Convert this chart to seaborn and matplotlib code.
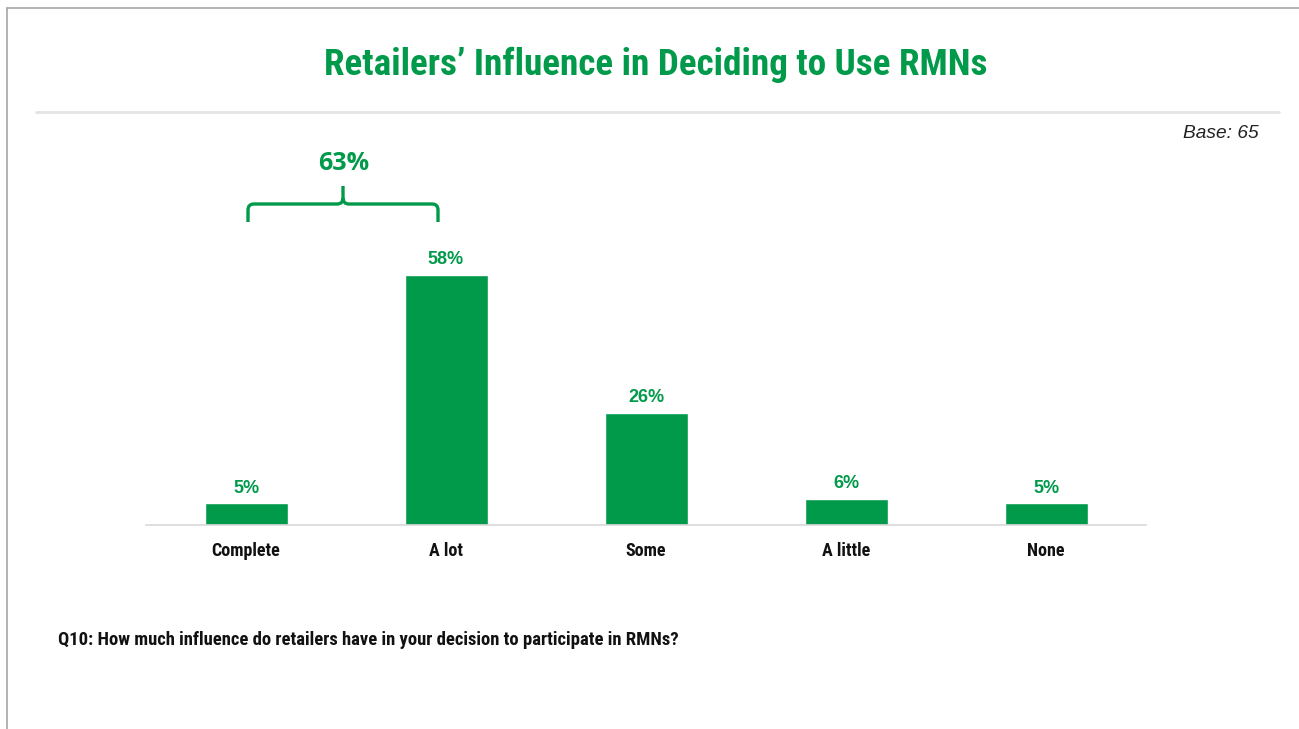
import matplotlib
matplotlib.use("Agg")
import matplotlib.pyplot as plt
import seaborn as sns
import pandas as pd
from matplotlib.lines import Line2D
from matplotlib.path import Path
from matplotlib.patches import PathPatch
from matplotlib.transforms import Affine2D

categories = ["Complete", "A lot", "Some", "A little", "None"]
shares = [5, 58, 26, 6, 5]
value_labels = ["5%", "58%", "26%", "6%", "5%"]
top_two_label = "63%"
title_text = "Retailers\u2019 Influence in Deciding to Use RMNs"
base_text = "Base: 65"
question_text = "Q10: How much influence do retailers have in your decision to participate in RMNs?"

GREEN = "#009A4A"
NARROW = ["Roboto Condensed", "PT Sans Narrow", "Barlow Semi Condensed", "DejaVu Sans"]

sns.set_theme(style="white")
plt.rcParams["font.family"] = ["Liberation Sans", "DejaVu Sans"]

df = pd.DataFrame({"category": categories, "share": shares})

fig = plt.figure(figsize=(12.99, 7.29), dpi=100)
W, H = 1299, 729

def fx(px):
    return px / W

def fy(py):
    return 1 - py / H

# pixel coordinates measured from the top-left corner of the slide
slide_px = Affine2D().scale(1 / W, -1 / H).translate(0, 1) + fig.transFigure

# slide frame (top and left edges)
fig.add_artist(Line2D([fx(7), fx(1299)], [fy(8), fy(8)], color="#a6a6a6", lw=1.2))
fig.add_artist(Line2D([fx(7), fx(7)], [fy(8), fy(729)], color="#a6a6a6", lw=1.2))
# separator under the title
fig.add_artist(Line2D([fx(36), fx(1279)], [fy(112), fy(112)], color="#e3e3e3", lw=2))

fig.text(fx(656), fy(65), title_text, ha="center", va="center", color=GREEN,
         fontsize=26.7, fontweight="bold", family=NARROW)
fig.text(fx(1259), fy(134), base_text, ha="right", va="center", color="#222222",
         fontsize=13.8, style="italic")
fig.text(fx(58), fy(640), question_text, ha="left", va="center", color="#111111",
         fontsize=13.4, fontweight="bold", family=NARROW)

ax_top, ax_bottom = 150, 525
ax = fig.add_axes([fx(146), fy(ax_bottom), fx(1146) - fx(146), (ax_bottom - ax_top) / H])
sns.barplot(data=df, x="category", y="share", color=GREEN, saturation=1,
            width=0.415, ax=ax)
ax.set_xlim(-0.5, len(categories) - 0.5)
ax.set_ylim(0, 87)
ax.set_xlabel("")
ax.set_ylabel("")
ax.set_yticks([])
for side in ["top", "right", "left"]:
    ax.spines[side].set_visible(False)
ax.spines["bottom"].set_color("#d9d9d9")
ax.spines["bottom"].set_linewidth(1.2)
ax.tick_params(axis="x", length=0, pad=12)
for lbl in ax.get_xticklabels():
    lbl.set_fontfamily(NARROW)
    lbl.set_fontweight("bold")
    lbl.set_fontsize(13)
    lbl.set_color("#111111")

for bar, txt in zip(ax.patches, value_labels):
    ax.annotate(txt, (bar.get_x() + bar.get_width() / 2, bar.get_height()),
                xytext=(0, 5), textcoords="offset points", ha="center", va="bottom",
                color=GREEN, fontsize=13, fontweight="bold")

# curly brace grouping the two top categories
L, R, M = 248, 438, 343
Y, END, TIP, r = 204, 222, 186, 6
verts = [(L, END), (L, Y + r), (L, Y), (L + r, Y), (M - r, Y), (M, Y), (M, Y - r), (M, TIP),
         (M, Y - r), (M, Y), (M + r, Y), (R - r, Y), (R, Y), (R, Y + r), (R, END)]
codes = [Path.MOVETO, Path.LINETO, Path.CURVE3, Path.CURVE3, Path.LINETO, Path.CURVE3,
         Path.CURVE3, Path.LINETO, Path.MOVETO, Path.CURVE3, Path.CURVE3, Path.LINETO,
         Path.CURVE3, Path.CURVE3, Path.LINETO]
fig.add_artist(PathPatch(Path(verts, codes), facecolor="none", edgecolor=GREEN,
                         lw=2.4, transform=slide_px, capstyle="butt"))
fig.text(fx(M + 1), fy(163), top_two_label, ha="center", va="center", color=GREEN,
         fontsize=18, fontweight="bold", family=["Open Sans", "DejaVu Sans"])

fig.savefig("out.png", dpi=100, facecolor="white")
